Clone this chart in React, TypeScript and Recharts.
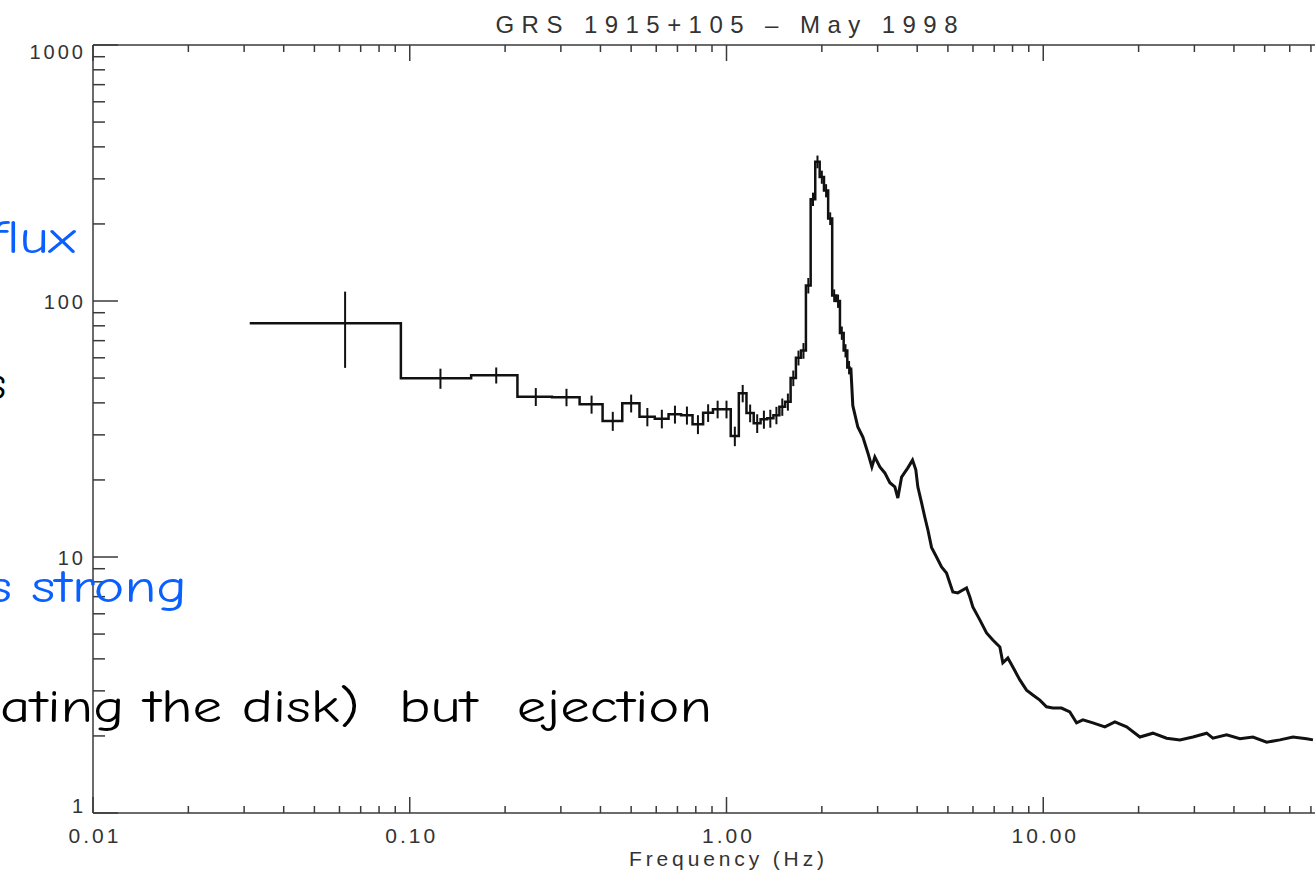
import React from "react";
import { ComposedChart, Line, Scatter, ErrorBar, XAxis, YAxis, Label } from "recharts";

// GRS 1915+105 power spectrum, May 1998
// low-frequency part: 1/16 Hz bins (centre, power, 1-sigma error)
const binFreq = [
  0.0625, 0.125, 0.1875, 0.25, 0.3125, 0.375, 0.4375, 0.5, 0.5625, 0.625,
  0.6875, 0.75, 0.8125, 0.875, 0.9375, 1.0, 1.0625, 1.125, 1.1875, 1.25,
  1.3125, 1.375, 1.4375, 1.5, 1.5625, 1.625, 1.6875, 1.75, 1.8125, 1.875,
  1.9375, 2.0, 2.0625, 2.125, 2.1875, 2.25, 2.3125, 2.375, 2.4375,
];
const binPower = [
  81.8, 49.9, 51.3, 42.3, 42.1, 39.5, 34.0, 39.9, 35.3, 34.7,
  36.1, 35.8, 33.0, 36.6, 37.8, 37.8, 29.7, 43.6, 36.5, 33.3,
  34.5, 34.8, 35.8, 38.6, 40.4, 50, 60, 64, 115, 250,
  350, 305, 270, 210, 105, 100, 75, 64, 55,
];
const binError = [
  27, 4.5, 3.7, 3.4, 3.3, 3.2, 2.9, 3.2, 2.9, 2.9,
  2.9, 2.9, 2.8, 2.9, 3.0, 3.0, 2.6, 3.4, 2.9, 2.8,
  2.8, 2.8, 2.8, 3.0, 3.1, 3.5, 4, 4.5, 8, 15,
  20, 18, 16, 12, 6, 6, 4.5, 3.8, 3.3,
];

// high-frequency part (finely rebinned)
const tailFreq = [
  2.505, 2.598, 2.695, 2.795, 2.877, 2.94, 3.049, 3.161, 3.279, 3.4,
  3.475, 3.57, 3.737, 3.866, 3.96, 4.018, 4.128, 4.228, 4.321, 4.439,
  4.603, 4.774, 4.95, 5.071, 5.183, 5.374, 5.573, 5.725, 5.865, 5.993,
  6.306, 6.622, 6.932, 7.295, 7.455, 7.731, 8.017, 8.436, 8.857, 9.272,
  9.756, 10.24, 10.72, 11.42, 12.13, 12.74, 13.34, 14.35, 15.65, 16.83,
  18.33, 20.19, 22.19, 24.52, 27.01, 29.69, 32.8, 34.33, 37.93, 41.78,
  45.92, 50.74, 55.87, 61.41, 67.82, 71.03,
];
const tailPower = [
  39, 32.2, 29.4, 25.5, 22.5, 24.6, 22.5, 21.3, 19.5, 18.8,
  17.0, 20.5, 22.3, 23.9, 21.9, 18.8, 16.3, 14.3, 12.8, 10.9,
  10.0, 9.14, 8.66, 7.91, 7.3, 7.24, 7.43, 7.57, 6.98, 6.38,
  5.68, 5.05, 4.74, 4.45, 3.86, 4.03, 3.72, 3.31, 3.02, 2.89,
  2.76, 2.6, 2.57, 2.57, 2.48, 2.25, 2.31, 2.25, 2.17, 2.27,
  2.17, 1.98, 2.05, 1.96, 1.93, 1.98, 2.05, 1.96, 2.02, 1.95,
  1.98, 1.89, 1.93, 1.98, 1.95, 1.93,
];

const xMajorTicks = [0.01, 0.1, 1, 10, 100];
const xTickLabels = ["0.01", "0.10", "1.00", "10.00", ""]; // 100 falls outside the visible crop
const yMajorTicks = [1, 10, 100, 1000];
const yTickLabels = ["1", "10", "100", "1000"];
const minorSteps = [2, 3, 4, 5, 6, 7, 8, 9];

const withMinors = (majors: number[]) =>
  [...majors, ...majors.slice(0, -1).flatMap((d) => minorSteps.map((m) => +(d * m).toPrecision(6)))].sort((a, b) => a - b);
const xTicks = withMinors(xMajorTicks);
const yTicks = withMinors(yMajorTicks);

// histogram steps: bin edges half way between the centres
const n = binFreq.length;
const edges = binFreq.map((f, i) => (i === 0 ? f - (binFreq[1] - f) / 2 : (binFreq[i - 1] + f) / 2));
const lastEdge = binFreq[n - 1] + (binFreq[n - 1] - binFreq[n - 2]) / 2;
const stepData = [
  ...binFreq.map((_, i) => ({ f: edges[i], p: binPower[i] })),
  { f: lastEdge, p: binPower[n - 1] },
];
const errData = binFreq.map((f, i) => ({ f, p: binPower[i], err: binError[i] }));
const tailData = [{ f: lastEdge, p: binPower[n - 1] }, ...tailFreq.map((f, i) => ({ f, p: tailPower[i] }))];

const AXIS = "#3a3a3a";
const TEXT = "#333";
const LINE = "#111";
const tickFont = "'Liberation Sans', Arial, Helvetica, sans-serif";
const noteFont = "'Comic Sans MS', 'Comic Neue', 'DejaVu Sans', sans-serif";
const BLUE = "#0a60ff";

const majorIndex = (v: number, majors: number[]) => majors.findIndex((m) => Math.abs(v - m) / m < 1e-6);

function XTick(props: any) {
  const { x, y, payload, side } = props;
  const idx = majorIndex(payload.value, xMajorTicks);
  const len = idx >= 0 ? 16 : 7;
  const dir = side === "top" ? 1 : -1;
  const label = idx >= 0 ? xTickLabels[idx] : "";
  return (
    <g>
      <line x1={x} x2={x} y1={y} y2={y + dir * len} stroke={AXIS} strokeWidth={1.5} />
      {side === "bottom" && label ? (
        <text x={x + 2} y={y + 30} textAnchor="middle" fontFamily={tickFont} fontSize={21} letterSpacing={3} fill={TEXT}>
          {label}
        </text>
      ) : null}
    </g>
  );
}

function YTick(props: any) {
  const { x, y, payload } = props;
  const idx = majorIndex(payload.value, yMajorTicks);
  const len = idx >= 0 ? 25 : 12;
  const v = payload.value;
  const dy = v === 1000 ? 14 : v === 1 ? 0 : 7.5;
  return (
    <g>
      <line x1={x} x2={x + len} y1={y} y2={y} stroke={AXIS} strokeWidth={1.5} />
      {idx >= 0 ? (
        <text x={x - 7} y={y + dy} textAnchor="end" fontFamily={tickFont} fontSize={20} letterSpacing={3} fill={TEXT}>
          {yTickLabels[idx]}
        </text>
      ) : null}
    </g>
  );
}

const renderTitle = (p: any) => {
  const vb = p.viewBox || { x: 93, width: 1267 };
  return (
    <text x={vb.x + vb.width / 2} y={33} textAnchor="middle" fontFamily={tickFont} fontSize={24} fill={TEXT} textLength={462} lengthAdjust="spacing">
      GRS 1915+105 – May 1998
    </text>
  );
};

const renderXTitle = (p: any) => {
  const vb = p.viewBox || { x: 93, y: 813, width: 1267 };
  return (
    <text x={vb.x + vb.width / 2} y={vb.y + 53} textAnchor="middle" fontFamily={tickFont} fontSize={21} fill={TEXT} textLength={195} lengthAdjust="spacing">
      Frequency (Hz)
    </text>
  );
};

const axisLine = { stroke: AXIS, strokeWidth: 1.5 };

export default function App() {
  return (
    <div style={{ position: "fixed", left: 0, top: 0, width: 1315, height: 875, overflow: "hidden", background: "#fff" }}>
      <ComposedChart width={1400} height={875} margin={{ top: 0, right: 0, bottom: 0, left: 0 }}>
        <XAxis
          xAxisId="bottom"
          dataKey="f"
          type="number"
          scale="log"
          domain={[0.01, 100]}
          allowDataOverflow
          ticks={xTicks}
          interval={0}
          tickSize={0}
          tickMargin={0}
          tickLine={false}
          axisLine={axisLine}
          height={62}
          tick={(p: any) => <XTick {...p} side="bottom" />}
        >
          <Label content={renderXTitle} />
        </XAxis>
        <XAxis
          xAxisId="top"
          orientation="top"
          dataKey="f"
          type="number"
          scale="log"
          domain={[0.01, 100]}
          allowDataOverflow
          ticks={xTicks}
          interval={0}
          tickSize={0}
          tickMargin={0}
          tickLine={false}
          axisLine={axisLine}
          height={45}
          tick={(p: any) => <XTick {...p} side="top" />}
        >
          <Label content={renderTitle} />
        </XAxis>
        <YAxis
          yAxisId="left"
          dataKey="p"
          type="number"
          scale="log"
          domain={[1, 1000]}
          allowDataOverflow
          ticks={yTicks}
          interval={0}
          tickSize={0}
          tickMargin={0}
          tickLine={false}
          axisLine={axisLine}
          width={93}
          tick={(p: any) => <YTick {...p} />}
        />
        <YAxis
          yAxisId="right"
          orientation="right"
          dataKey="p"
          type="number"
          scale="log"
          domain={[1, 1000]}
          allowDataOverflow
          tick={false}
          tickLine={false}
          axisLine={axisLine}
          width={40}
        />
        <Line
          xAxisId="bottom"
          yAxisId="left"
          data={stepData}
          dataKey="p"
          type="stepAfter"
          stroke={LINE}
          strokeWidth={2.5}
          dot={false}
          activeDot={false}
          isAnimationActive={false}
        />
        <Line
          xAxisId="bottom"
          yAxisId="left"
          data={tailData}
          dataKey="p"
          type="linear"
          stroke={LINE}
          strokeWidth={3}
          strokeLinejoin="miter"
          dot={false}
          activeDot={false}
          isAnimationActive={false}
        />
        <Scatter xAxisId="bottom" yAxisId="left" data={errData} dataKey="p" shape={() => null} isAnimationActive={false}>
          <ErrorBar dataKey="err" direction="y" width={0} stroke={LINE} strokeWidth={2} isAnimationActive={false} />
        </Scatter>
      </ComposedChart>

      {/* slide text that sits over the plot */}
      <svg width={1315} height={875} style={{ position: "absolute", left: 0, top: 0, pointerEvents: "none" }}>
        <text x={-9} y={253} fontFamily={noteFont} fontSize={46} fill={BLUE} textLength={85} lengthAdjust="spacingAndGlyphs">
          flux
        </text>
        <text x={-13} y={399} fontFamily={noteFont} fontSize={46} fill="#000">
          s
        </text>
        <text x={-12} y={602} fontFamily={noteFont} fontSize={46} fill={BLUE} textLength={199} lengthAdjust="spacingAndGlyphs">
          s strong
        </text>
        <text x={0} y={722} fontFamily={noteFont} fontSize={46} fill="#000" textLength={712} lengthAdjust="spacingAndGlyphs" style={{ whiteSpace: "pre" }}>
          ating the disk)  but  ejection
        </text>
      </svg>
    </div>
  );
}
